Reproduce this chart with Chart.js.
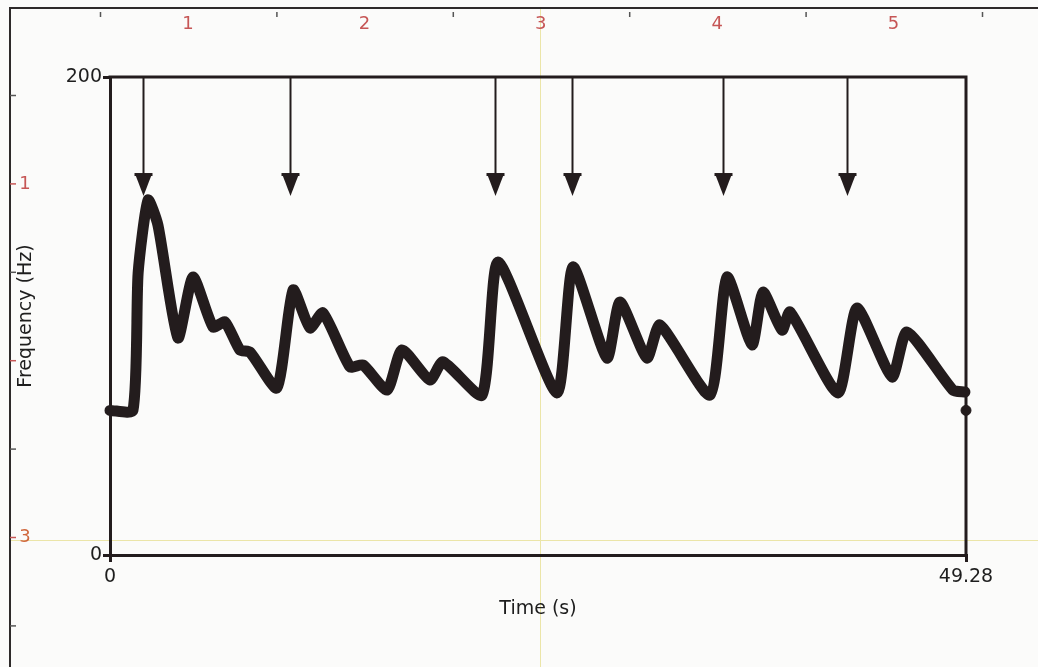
<!DOCTYPE html>
<html>
<head>
<meta charset="utf-8">
<script src="https://cdn.jsdelivr.net/npm/chart.js@4.4.1/dist/chart.umd.min.js"></script>
<style>
   body { margin: 0; background: #fbfbfa; }
   #wrap { width: 1038px; height: 667px; }
</style>
</head>
<body>
<div id="wrap"><canvas id="myChart" width="1038" height="667"></canvas></div>
<script>
'use strict';

/***** DATA *****/
var times = [0, 1.32, 1.62, 2.19, 2.76, 3.91, 4.78, 5.93, 6.62, 7.48, 8.06, 9.61, 10.54, 11.51, 12.26,
   13.82, 14.57, 15.95, 16.81, 18.42, 19.17, 21.42, 22.34, 25.73, 26.65, 28.61, 29.36, 30.91, 31.66,
   34.54, 35.52, 36.96, 37.59, 38.69, 39.15, 41.91, 43.00, 45.02, 45.88, 48.53, 49.22];
var freqs = [60.5, 60.5, 118, 148.5, 138, 90.8, 116.3, 95.4, 97.5, 85.8, 84.9, 69.9, 110.9, 95.0, 101.3,
   78.7, 79.5, 69.0, 85.8, 73.2, 80.8, 66.9, 122.6, 67.8, 120.5, 82.4, 105.9, 82.4, 96.2,
   66.9, 116.3, 87.9, 110.0, 94.1, 101.7, 67.8, 103.3, 74.5, 93.3, 69.0, 68.2];
var endTime = [49.28];
var endFreq = [60.5];

var arrowTimes = [1.90, 10.36, 22.16, 26.60, 35.29, 42.43];
var arrowTip = 150.2; // frequency where the arrow heads end

var xTicks = [0, 49.28];
var yTicks = [0, 200];
var topRulerLabels = ['1', '2', '3', '4', '5'];
var leftRulerLabels = ['1', '', '3'];

var FONT = 'DejaVu Sans';
var INK = '#231c1d';

function toPoints (xs, ys) {
   var pts = [];
   for (var i = 0; i < xs.length; i++) pts.push({ x: xs[i], y: ys[i] });
   return pts;
}

/***** PLUGINS *****/
// background, crosshair, outer frame and the rulers of the video window
var decorPlugin = {
   id: 'decor',
   beforeDraw: function (chart) {
      var ctx = chart.ctx;
      var i, x, y;
      ctx.save();
      ctx.fillStyle = '#fbfbfa';
      ctx.fillRect(0, 0, chart.width, chart.height);

      ctx.strokeStyle = '#ebe5a8';
      ctx.lineWidth = 1;
      ctx.beginPath();
      ctx.moveTo(540.5, 8); ctx.lineTo(540.5, chart.height);
      ctx.moveTo(10, 540.5); ctx.lineTo(chart.width, 540.5);
      ctx.stroke();

      ctx.strokeStyle = '#2e2a2a';
      ctx.lineWidth = 2;
      ctx.beginPath();
      ctx.moveTo(10, chart.height); ctx.lineTo(10, 8); ctx.lineTo(chart.width, 8);
      ctx.stroke();

      // top ruler
      ctx.strokeStyle = '#555';
      ctx.lineWidth = 1.5;
      ctx.beginPath();
      for (i = 0; i < 6; i++) {
         x = 100.5 + i * 176.4;
         ctx.moveTo(x, 12); ctx.lineTo(x, 17);
      }
      ctx.stroke();
      ctx.fillStyle = '#c65656';
      ctx.font = '18px "' + FONT + '"';
      ctx.textAlign = 'center';
      ctx.textBaseline = 'middle';
      for (i = 0; i < topRulerLabels.length; i++) {
         ctx.fillText(topRulerLabels[i], 188 + i * 176.4, 24);
      }

      // left ruler
      for (i = 0; i < 7; i++) {
         y = 95.5 + i * 88.4;
         ctx.strokeStyle = (i % 2 === 1) ? '#c65656' : '#555';
         ctx.beginPath();
         ctx.moveTo(10, y); ctx.lineTo(16, y);
         ctx.stroke();
      }
      for (i = 0; i < leftRulerLabels.length; i++) {
         if (!leftRulerLabels[i]) continue;
         ctx.fillStyle = i === 2 ? '#d0683e' : '#c65656';
         ctx.fillText(leftRulerLabels[i], 25, 183.9 + i * 176.8);
      }
      ctx.restore();
   },
   beforeDatasetsDraw: function (chart) {
      var ctx = chart.ctx;
      var area = chart.chartArea;
      var xs = chart.scales.x, ys = chart.scales.y;
      ctx.save();
      // top and right side of the plot box
      ctx.strokeStyle = INK;
      ctx.lineWidth = 3;
      ctx.beginPath();
      ctx.moveTo(area.left - 1.5, area.top);
      ctx.lineTo(area.right, area.top);
      ctx.lineTo(area.right, area.bottom + 1.5);
      ctx.stroke();

      // event arrows
      var tipY = ys.getPixelForValue(arrowTip);
      for (var i = 0; i < arrowTimes.length; i++) {
         var x = Math.round(xs.getPixelForValue(arrowTimes[i])) + 0.5;
         ctx.lineWidth = 2;
         ctx.beginPath();
         ctx.moveTo(x, area.top);
         ctx.lineTo(x, tipY - 20);
         ctx.stroke();
         ctx.fillStyle = INK;
         ctx.fillRect(x - 9, tipY - 23, 18, 3);
         ctx.beginPath();
         ctx.moveTo(x - 8, tipY - 21);
         ctx.lineTo(x + 8, tipY - 21);
         ctx.lineTo(x, tipY);
         ctx.closePath();
         ctx.fill();
      }
      ctx.restore();
   }
};

/***** CHART *****/
var ctx = document.getElementById('myChart');
var myChart = new Chart(ctx, {
   type: 'line',
   data: {
      datasets: [{
         data: toPoints(times, freqs),
         borderColor: INK,
         borderWidth: 11,
         borderJoinStyle: 'round',
         borderCapStyle: 'round',
         tension: 0.2,
         pointRadius: 0,
         fill: false,
         clip: false
      }, {
         data: toPoints(endTime, endFreq),
         showLine: false,
         pointRadius: 5,
         pointBackgroundColor: INK,
         pointBorderColor: INK,
         clip: false
      }]
   },
   options: {
      responsive: false,
      animation: false,
      devicePixelRatio: 1,
      events: [],
      layout: { padding: { left: 0, top: 77, right: 72, bottom: 0 } },
      plugins: { legend: { display: false }, tooltip: { enabled: false } },
      scales: {
         x: {
            type: 'linear',
            min: 0,
            max: 49.28,
            afterBuildTicks: function (scale) {
               scale.ticks = xTicks.map(function (v) { return { value: v }; });
            },
            afterFit: function (scale) { scale.height = 112; },
            ticks: {
               color: '#1e1e1e',
               padding: 4,
               maxRotation: 0,
               autoSkip: false,
               font: { family: FONT, size: 19 },
               callback: function (v) { return String(v); }
            },
            grid: { drawOnChartArea: false, drawTicks: true, tickLength: 7, color: INK, lineWidth: 3 },
            border: { display: true, color: INK, width: 3 },
            title: {
               display: true,
               text: 'Time (s)',
               color: '#1e1e1e',
               font: { family: FONT, size: 19 },
               padding: { top: 0, bottom: 47 }
            }
         },
         y: {
            type: 'linear',
            min: 0,
            max: 200,
            afterBuildTicks: function (scale) {
               scale.ticks = yTicks.map(function (v) { return { value: v }; });
            },
            afterFit: function (scale) { scale.width = 110; },
            ticks: {
               color: '#1e1e1e',
               padding: 1,
               autoSkip: false,
               font: { family: FONT, size: 19 },
               callback: function (v) { return String(v); }
            },
            grid: { drawOnChartArea: false, drawTicks: true, tickLength: 7, color: INK, lineWidth: 3 },
            border: { display: true, color: INK, width: 3 },
            title: {
               display: true,
               text: 'Frequency (Hz)',
               color: '#1e1e1e',
               font: { family: FONT, size: 19 },
               padding: { top: 15, bottom: 0 }
            }
         }
      }
   },
   plugins: [decorPlugin]
});
</script>
</body>
</html>
